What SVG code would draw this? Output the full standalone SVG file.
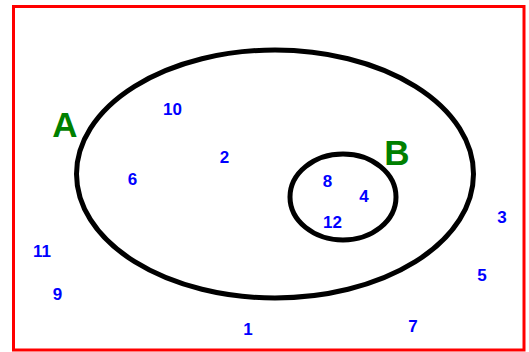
<svg xmlns="http://www.w3.org/2000/svg" width="529" height="352" viewBox="0 0 529 352">
<style>
.set{fill:none;stroke:#000;stroke-width:5}
.n{font-family:"Liberation Sans",Arial,sans-serif;font-size:17px;font-weight:bold;fill:#0000ff;text-anchor:middle}
.lbl{font-family:"Liberation Sans",Arial,sans-serif;font-size:35px;font-weight:bold;fill:#008000;text-anchor:middle}
</style>
<rect width="529" height="352" fill="#fff"/>
<rect id="universe" x="13.5" y="6.5" width="510.5" height="343.5" fill="none" stroke="#ff0000" stroke-width="3"/>
<g id="setA"><ellipse class="set" cx="275" cy="174" rx="198.5" ry="124"/><text class="lbl" x="65" y="137">A</text></g>
<g id="setB"><ellipse class="set" cx="343" cy="197" rx="53" ry="43"/><text class="lbl" x="397" y="165">B</text></g>
<g id="connectors"></g>
<g id="elements">
<text class="n" x="172.5" y="115">10</text>
<text class="n" x="224.5" y="163">2</text>
<text class="n" x="132.5" y="185">6</text>
<text class="n" x="327.5" y="187">8</text>
<text class="n" x="364" y="202">4</text>
<text class="n" x="332.5" y="228">12</text>
<text class="n" x="502" y="223">3</text>
<text class="n" x="482" y="281">5</text>
<text class="n" x="42" y="257">11</text>
<text class="n" x="57.5" y="300">9</text>
<text class="n" x="248" y="335">1</text>
<text class="n" x="413" y="332">7</text>
</g>
</svg>
